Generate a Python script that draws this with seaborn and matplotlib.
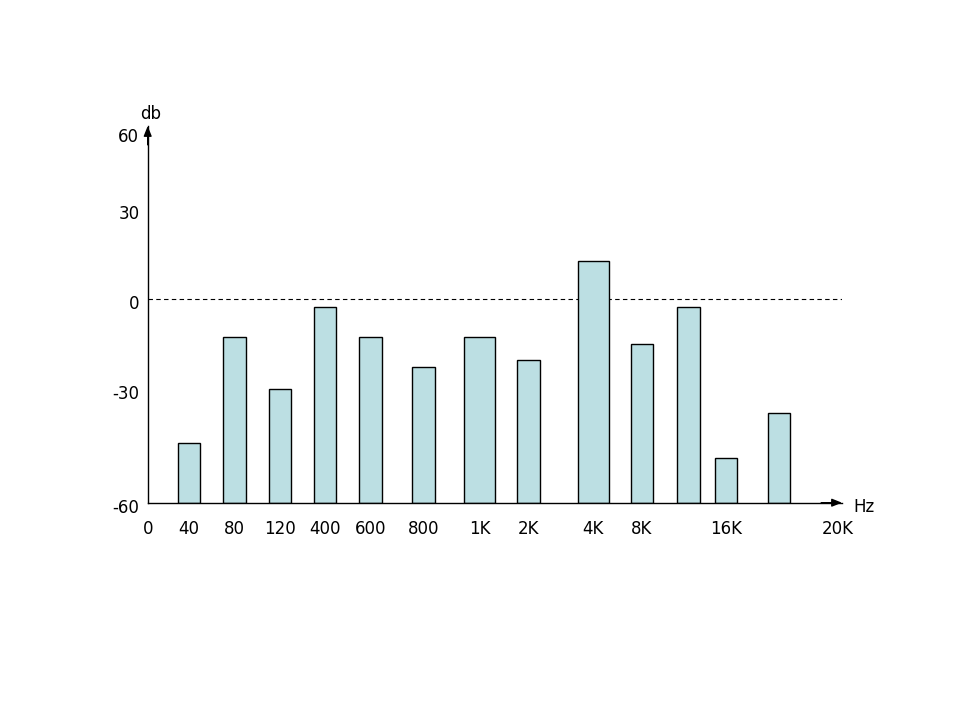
import numpy as np
import matplotlib
matplotlib.use("Agg")
import matplotlib.pyplot as plt
import matplotlib.transforms as mtransforms
import seaborn as sns

# ---------------- data ----------------
bar_labels = ["40", "80", "120", "400", "600", "800", "1K", "2K", "4K", "8K", "", "16K", ""]
db_values = [-44.3, -12.7, -30.0, -2.7, -12.6, -22.8, -12.7, -20.3, 12.6, -15.0, -2.7, -48.3, -36.4]
x_start_label = "0"
x_end_label = "20K"
y_ticks = [-60, -30, 0, 30, 60]
y_tick_labels = ["-60", "-30", "0", "30", "60"]
y_axis_label = "db"
x_axis_label = "Hz"
FLOOR = -60

# ---------------- layout / style ----------------
BAR_COLOR = "#BCDFE3"
WIDE = {"1K", "4K"}
FONT_SIZE = 12
# axis layout knots (slot index -> layout pixel), (db -> layout pixel)
x_knots_idx = np.arange(-1, 15)
x_knots_px = np.array([147.7, 188.8, 234.5, 280, 325, 370.2, 423.3, 479.7,
                       528.7, 593.3, 642, 688.3, 725.8, 779, 838, 897])
y_knots_db = np.array([-90, -60, -30, 0, 30, 60, 90])
y_knots_px = np.array([616.4, 502.7, 389, 299.3, 209, 132, 55])


def fx(v):
    return np.interp(v, x_knots_idx, x_knots_px)


def ix(p):
    return np.interp(p, x_knots_px, x_knots_idx)


def fy(v):
    return -np.interp(v, y_knots_db, y_knots_px)


def iy(p):
    return np.interp(p, -y_knots_px, y_knots_db)


sns.set_theme(style="white")
plt.rcParams["font.family"] = ["DejaVu Sans"]
plt.rcParams["text.color"] = "black"

fig = plt.figure(figsize=(9.6, 7.2), dpi=100)
ax_left, ax_right, ax_top, ax_bottom = 147.7, 842.0, 126.0, 502.7
ax = fig.add_axes([ax_left / 960, (720 - ax_bottom) / 720,
                   (ax_right - ax_left) / 960, (ax_bottom - ax_top) / 720])

heights = np.array(db_values) - FLOOR
sns.barplot(x=np.arange(len(db_values)), y=heights, bottom=FLOOR, width=0.5,
            color=BAR_COLOR, edgecolor="black", linewidth=1.0, saturation=1,
            ax=ax)

ax.set_xscale("function", functions=(fx, ix))
ax.set_yscale("function", functions=(fy, iy))
ax.set_xlim(-1, float(ix(ax_right)))
ax.set_ylim(FLOOR, float(iy(-ax_top)))

# bar widths in layout pixels
for i, (p, lab) in enumerate(zip(ax.patches, bar_labels)):
    target = 31.0 if lab in WIDE else 22.6
    c = fx(i)
    l, r = ix(c - target / 2), ix(c + target / 2)
    p.set_x(float(l))
    p.set_width(float(r - l))

# ticks
xt_pos = [-1] + [i for i, l in enumerate(bar_labels) if l] + [len(bar_labels)]
xt_lab = [x_start_label] + [l for l in bar_labels if l] + [x_end_label]
ax.set_xticks(xt_pos, xt_lab)
ax.set_yticks(y_ticks, y_tick_labels)
ax.tick_params(axis="both", length=0, labelsize=FONT_SIZE, colors="black")
ax.tick_params(axis="x", pad=12.5)
ax.tick_params(axis="y", pad=6)
off = mtransforms.ScaledTranslation(0, -3 / 100, fig.dpi_scale_trans)
for t in ax.get_yticklabels():
    t.set_transform(t.get_transform() + off)
ax.minorticks_off()

# spines
sns.despine(ax=ax, top=True, right=True)
for s in ("left", "bottom"):
    ax.spines[s].set_color("black")
    ax.spines[s].set_linewidth(1.0)

# zero dashed line
ax.axhline(0, color="black", lw=0.8, ls=(0, (4, 3)), zorder=0)

# arrows
ax.annotate("", xy=(0, 1), xycoords="axes fraction", xytext=(0, 0.95),
            arrowprops=dict(arrowstyle="-|>,head_length=0.5,head_width=0.2",
                            color="black", lw=1.0, shrinkA=0, shrinkB=0))
ax.annotate("", xy=(1, 0), xycoords="axes fraction", xytext=(0.97, 0),
            arrowprops=dict(arrowstyle="-|>,head_length=0.5,head_width=0.2",
                            color="black", lw=1.0, shrinkA=0, shrinkB=0))

# axis labels
ax.annotate(y_axis_label, xy=(0, 1), xycoords="axes fraction", xytext=(3, 12),
            textcoords="offset pixels", ha="center", va="center",
            fontsize=FONT_SIZE, color="black")
ax.annotate(x_axis_label, xy=(1, 0), xycoords="axes fraction", xytext=(22, -4),
            textcoords="offset pixels", ha="center", va="center",
            fontsize=FONT_SIZE, color="black")

ax.grid(False)
fig.savefig("out.png", dpi=100, facecolor="white")
